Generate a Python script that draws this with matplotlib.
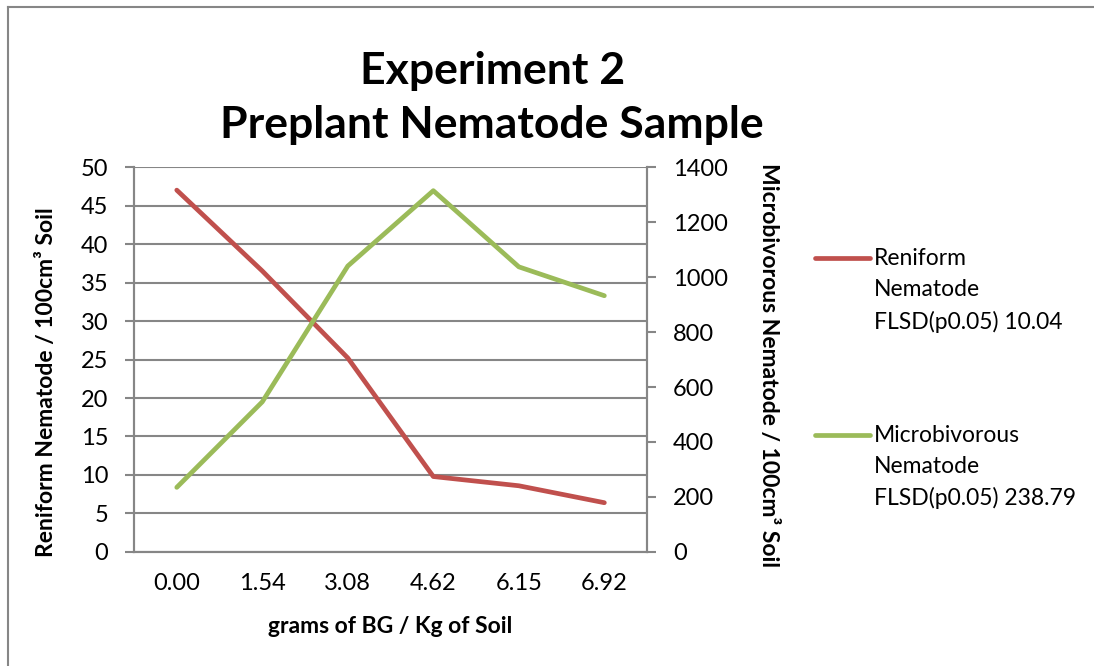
import numpy as np
import matplotlib.pyplot as plt
from matplotlib.lines import Line2D

plt.rcParams['font.family'] = ['Lato', 'DejaVu Sans']

# data
doses = ['0.00', '1.54', '3.08', '4.62', '6.15', '6.92']
reniform = [47.0, 36.5, 25.2, 9.8, 8.6, 6.4]
microbivorous = [235, 546, 1040, 1314, 1037, 932]
reniform_label = 'Reniform\nNematode\nFLSD(p0.05) 10.04'
micro_label = 'Microbivorous\nNematode\nFLSD(p0.05) 238.79'

red = '#C0504D'
green = '#9BBB59'
gray = '#868686'

fig = plt.figure(figsize=(10.94, 6.66), dpi=100)
ax = fig.add_axes([0.1225, 0.1712, 0.469, 0.578])
ax2 = ax.twinx()

x = np.arange(len(doses))
l1, = ax.plot(x, reniform, color=red, lw=3.4, solid_capstyle='round', zorder=3)
l2, = ax2.plot(x, microbivorous, color=green, lw=3.4, solid_capstyle='round', zorder=3)

ax.set_xlim(-0.5, len(doses) - 0.5)
ax.set_ylim(0, 50)
ax.set_yticks(np.arange(0, 51, 5))
ax2.set_ylim(0, 1400)
ax2.set_yticks(np.arange(0, 1401, 200))
ax.set_xticks(x)
ax.set_xticklabels(doses)

ax.grid(axis='y', color=gray, lw=1.5)
ax.set_axisbelow(True)
for a in (ax, ax2):
    for s in a.spines.values():
        s.set_color(gray)
        s.set_linewidth(1.5)
    a.spines['top'].set_visible(False)
tick_fs = 17
ax.tick_params(axis='y', length=6.5, width=1.5, color=gray, labelsize=tick_fs, pad=12)
ax2.tick_params(axis='y', length=6.5, width=1.5, color=gray, labelsize=tick_fs, pad=12)
ax.tick_params(axis='x', length=0, labelsize=tick_fs, pad=15)

ax.set_xlabel('grams of BG / Kg of Soil', fontsize=16.5, fontweight='bold', labelpad=16)
ax.set_ylabel('Reniform Nematode / 100cm³ Soil', fontsize=16.5, fontweight='bold')
ax.yaxis.set_label_coords(-0.15, 0.44)
ax2.set_ylabel('Microbivorous Nematode / 100cm³ Soil', fontsize=16.5, fontweight='bold',
               rotation=-90)
ax2.yaxis.set_label_coords(1.257, 0.486)

fig.text(0.45, 0.923, 'Experiment 2\nPreplant Nematode Sample', ha='center', va='top',
         fontsize=32, fontweight='bold', linespacing=1.42)

leg_fs = 16.5
leg_ls = 1.58
leg = fig.legend([l1, l2], [reniform_label, micro_label], loc='upper left',
                 bbox_to_anchor=(0.745, 0.627), frameon=False, fontsize=leg_fs,
                 borderpad=0, borderaxespad=0,
                 handlelength=2.4, handletextpad=0.17, labelspacing=4.02)
for t in leg.get_texts():
    t.set_linespacing(leg_ls)
# keep the legend line level with the first line of its label
for ln in leg.get_lines():
    ln.set_ydata(np.asarray(ln.get_ydata()) + 0.91 * leg_ls * leg_fs)

# outer chart border (cut at right and bottom)
fig.add_artist(Line2D([8 / 1094, 1.0], [1 - 7 / 666] * 2, transform=fig.transFigure, color=gray, lw=1.5))
fig.add_artist(Line2D([8 / 1094] * 2, [0, 1 - 7 / 666], transform=fig.transFigure, color=gray, lw=1.5))

fig.savefig('out.png', dpi=100)
